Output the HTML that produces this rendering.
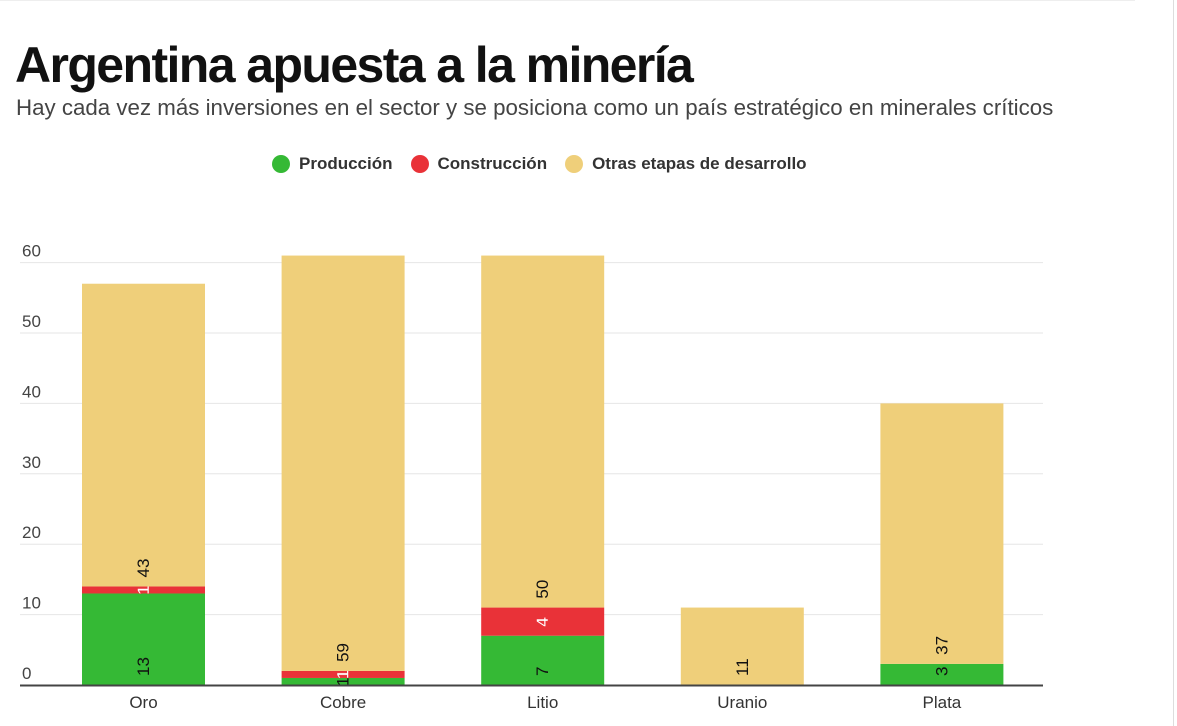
<!DOCTYPE html>
<html><head><meta charset="utf-8"><style>
body{margin:0;width:1177px;height:726px;background:#fff;overflow:hidden;font-family:"Liberation Sans",sans-serif;position:relative}
h1{position:absolute;left:15px;top:36px;margin:0;font-size:50px;font-weight:bold;letter-spacing:-1.6px;color:#111}
.sub{position:absolute;left:16px;top:95px;font-size:22.3px;color:#444}
.legend{position:absolute;top:154px;left:272px;font-size:17px;font-weight:bold;color:#333;display:flex;gap:18px}
.legend span{display:flex;align-items:center}
.legend i{display:inline-block;width:18px;height:18px;border-radius:50%;margin-right:9px}
</style></head><body>
<div style="position:absolute;left:0;top:0;width:1135px;height:1px;background:#eee"></div>
<div style="position:absolute;left:1173px;top:0;width:1px;height:726px;background:#ddd"></div>
<h1>Argentina apuesta a la minería</h1>
<div class="sub">Hay cada vez más inversiones en el sector y se posiciona como un país estratégico en minerales críticos</div>
<div class="legend">
<span><i style="background:#35b935"></i>Producción</span>
<span><i style="background:#e93238"></i>Construcción</span>
<span><i style="background:#efcf7a"></i>Otras etapas de desarrollo</span>
</div>
<svg id="chart" width="1177" height="726" style="position:absolute;left:0;top:0"></svg>
<script>
const categories=["Oro","Cobre","Litio","Uranio","Plata"];
const produccion=[13,1,7,0,3];
const construccion=[1,1,4,0,0];
const otras=[43,59,50,11,37];
const yTicks=[0,10,20,30,40,50,60];
const colors=["#35b935","#e93238","#efcf7a"];
const labelColors=["#111","#fff","#111"];
const NS="http://www.w3.org/2000/svg";
const svg=document.getElementById('chart');
const y=v=>685-v*7.04;
const xBand=i=>82+i*199.6;
const bw=123;
function mk(t,a){const e=document.createElementNS(NS,t);for(const k in a)e.setAttribute(k,a[k]);svg.appendChild(e);return e;}
yTicks.forEach(t=>{
  if(t>0){const g=mk('line',{x1:20,x2:1043,y1:y(t),y2:y(t),stroke:'#e6e6e6','stroke-width':1});
  
  }
  const l=mk('text',{x:22,y:y(t)-6,'font-size':17,fill:'#444'});
  l.textContent=t;
  
  
});
const series=[produccion,construccion,otras];
categories.forEach((c,i)=>{
  let base=0;
  series.forEach((s,k)=>{
    const v=s[i];
    if(v<=0)return;
    const r=mk('rect',{x:xBand(i),y:y(base+v),width:bw,height:y(base)-y(base+v),fill:colors[k]});
    
    
    const h=y(base)-y(base+v);
    const cx=xBand(i)+bw/2;
    let ty,anchor;
    if(h<20){ty=(y(base)+y(base+v))/2;anchor='middle';}else{ty=y(base)-9;anchor='start';}
    const t=mk('text',{x:cx,y:ty,'font-size':17,fill:labelColors[k],'text-anchor':anchor,'dominant-baseline':'central',transform:`rotate(-90 ${cx} ${ty})`});
    if(k==1){t.setAttribute('font-weight','bold');t.setAttribute('stroke','#e93238');t.setAttribute('stroke-width','0.5');}
    t.textContent=v;
    
    
    base+=v;
  });
  const xl=mk('text',{x:xBand(i)+bw/2,y:708,'font-size':17,fill:'#333','text-anchor':'middle'});
  xl.textContent=c;
  
  
});
const ax=mk('line',{x1:20,x2:1043,y1:685.5,y2:685.5,stroke:'#444','stroke-width':2});


</script>
</body></html>
